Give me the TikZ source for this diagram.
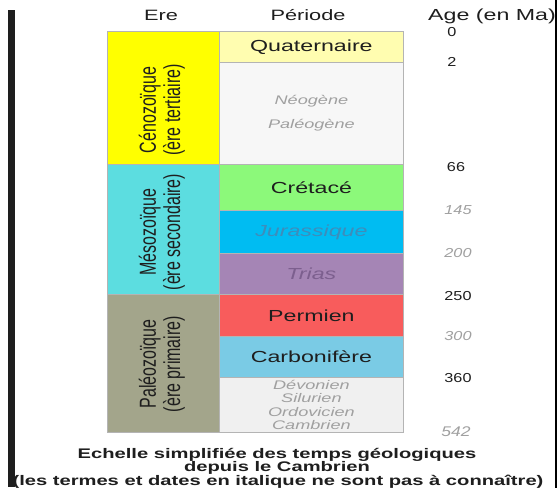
\documentclass[tikz,border=0pt]{standalone}
\usepackage{fontspec}
\usepackage{graphicx}
\setmainfont{Liberation Sans}
\newfontfamily\wf[FakeStretch=1.45]{Liberation Sans}
\newfontfamily\nf[FakeStretch=1.25]{Liberation Sans}
\definecolor{cellline}{HTML}{B4B4B4}
\definecolor{cenoc}{HTML}{FFFF00}
\definecolor{mesoc}{HTML}{5CDDE0}
\definecolor{paleoc}{HTML}{A3A58B}
\definecolor{quatc}{HTML}{FFFDB0}
\definecolor{neoc}{HTML}{F7F7F7}
\definecolor{cretc}{HTML}{8CF97A}
\definecolor{jurc}{HTML}{00BCF2}
\definecolor{triasc}{HTML}{A585B5}
\definecolor{permc}{HTML}{F85C5C}
\definecolor{carbc}{HTML}{7ACBE5}
\definecolor{devc}{HTML}{F0F0F0}
\definecolor{grayt}{HTML}{A0A0A0}
\definecolor{jurt}{HTML}{3D8DBB}
\definecolor{triast}{HTML}{7C5F8E}
\definecolor{inkc}{HTML}{1E1E1E}
\begin{document}
\begin{tikzpicture}[x=1pt,y=-1pt,
  cell/.style={draw=cellline, line width=0.8pt, anchor=north west, inner sep=0pt, align=center},
  per/.style={font=\wf\fontsize{16}{18}\selectfont, text=inkc},
  pgray/.style={font=\wf\itshape\fontsize{12.5}{13.3}\selectfont, text=grayt},
  age/.style={font=\nf\fontsize{13}{14}\selectfont, text=inkc, anchor=center, inner sep=0pt},
  agegray/.style={font=\nf\itshape\fontsize{13}{14}\selectfont, text=grayt, anchor=center, inner sep=0pt},
  head/.style={font=\wf\fontsize{15}{16}\selectfont, text=inkc, anchor=base, inner sep=0pt},
  capt/.style={font=\wf\bfseries\fontsize{13.9}{15}\selectfont, text=inkc, anchor=base, inner sep=0pt},
  erelab/.style={inner sep=0pt, text=inkc}
]
\useasboundingbox (0,0) rectangle (560,490);
\fill[white] (0,0) rectangle (560,490);
% frame bars
\fill[inkc] (8,10) rectangle (15,487);
\draw[black, line width=1.5pt] (556,0) -- (556,488);
% headers
\node[head] (hEre) at (161,20) {Ere};
\node[head] (hPer) at (308,20) {Période};
\node[head, anchor=base west, font=\wf\fontsize{16}{18}\selectfont] (hAge) at (428,20) {Age (en Ma)};
% ere cells
\node[cell, fill=cenoc, minimum width=112pt, minimum height=133pt] (cen) at (107,31) {};
\node[cell, fill=mesoc, minimum width=112pt, minimum height=130pt] (meso) at (107,164) {};
\node[cell, fill=paleoc, minimum width=112pt, minimum height=138pt] (paleo) at (107,294) {};
% period cells
\node[cell, fill=quatc, minimum width=184pt, minimum height=31pt, per] (quat) at (219,31) {Quaternaire};
\node[cell, fill=neoc, minimum width=184pt, minimum height=102pt, pgray, font=\wf\itshape\fontsize{12.5}{24}\selectfont] (neo) at (219,62) {Néogène\\Paléogène};
\node[cell, fill=cretc, minimum width=184pt, minimum height=46pt, per] (cret) at (219,164) {Crétacé};
\node[cell, fill=jurc, minimum width=184pt, minimum height=43pt, per, font=\wf\itshape\fontsize{16}{18}\selectfont, text=jurt] (jur) at (219,210) {Jurassique};
\node[cell, fill=triasc, minimum width=184pt, minimum height=41pt, per, font=\wf\itshape\fontsize{16}{18}\selectfont, text=triast] (trias) at (219,253) {Trias};
\node[cell, fill=permc, minimum width=184pt, minimum height=42pt, per] (perm) at (219,294) {Permien};
\node[cell, fill=carbc, minimum width=184pt, minimum height=41pt, per] (carb) at (219,336) {Carbonifère};
\node[cell, fill=devc, minimum width=184pt, minimum height=55pt, pgray] (dev) at (219,377) {Dévonien\\Silurien\\Ordovicien\\Cambrien};
% ere labels (rotated)
\node[erelab] (cenl) at (163,110) {\rotatebox{90}{\scalebox{1}[1.45]{\fontsize{16}{16.5}\selectfont\begin{tabular}{@{}c@{}}Cénozoïque\\(ère tertiaire)\end{tabular}}}};
\node[erelab] (mesol) at (163,232) {\rotatebox{90}{\scalebox{1}[1.45]{\fontsize{16}{16.5}\selectfont\begin{tabular}{@{}c@{}}Mésozoïque\\(ère secondaire)\end{tabular}}}};
\node[erelab] (paleol) at (163,364) {\rotatebox{90}{\scalebox{1}[1.45]{\fontsize{16}{16.5}\selectfont\begin{tabular}{@{}c@{}}Paléozoïque\\(ère primaire)\end{tabular}}}};
% ages
\node[age] (a0) at (452,32) {0};
\node[age] (a2) at (452,62) {2};
\node[age] (a66) at (456,167) {66};
\node[agegray] (a145) at (458,210) {145};
\node[agegray] (a200) at (458,253) {200};
\node[age] (a250) at (458,296) {250};
\node[agegray] (a300) at (458,336) {300};
\node[age] (a360) at (458,378) {360};
\node[agegray, font=\nf\itshape\fontsize{14}{15}\selectfont] (a542) at (456,432) {542};
% caption
\node[capt] (cap1) at (277,458) {Echelle simplifiée des temps géologiques};
\node[capt] (cap2) at (277,471.5) {depuis le Cambrien};
\node[capt] (cap3) at (278,485) {(les termes et dates en italique ne sont pas à connaître)};
\end{tikzpicture}
\end{document}
